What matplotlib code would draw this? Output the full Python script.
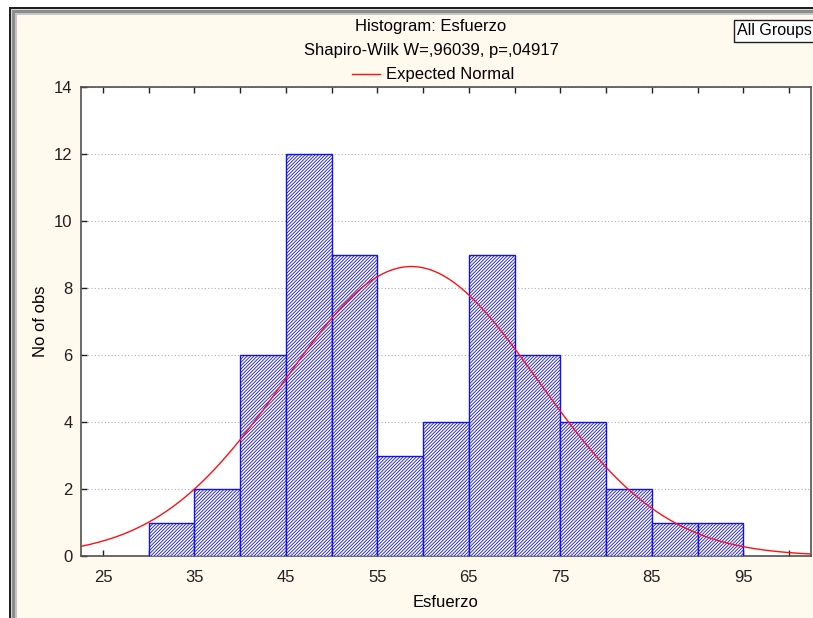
import numpy as np
import matplotlib
matplotlib.use("Agg")
import matplotlib.pyplot as plt
from matplotlib.patches import Rectangle
from matplotlib.lines import Line2D

plt.rcParams['font.family'] = ['Liberation Sans', 'DejaVu Sans']
plt.rcParams['hatch.color'] = '#3a3aff'
plt.rcParams['hatch.linewidth'] = 0.6

bin_lefts = [30, 35, 40, 45, 50, 55, 60, 65, 70, 75, 80, 85, 90]
counts = [1, 2, 6, 12, 9, 3, 4, 9, 6, 4, 2, 1, 1]
bin_width = 5
x_ticklabels = [25, 35, 45, 55, 65, 75, 85, 95]
y_ticks = [0, 2, 4, 6, 8, 10, 12, 14]

# Paramètres de la normale attendue
mu = 58.7
sigma = 13.85
n_obs = sum(counts)

W, H = 813, 618
fig = plt.figure(figsize=(W / 100, H / 100), dpi=100, facecolor='white')

def px_rect(x0, y0, color):
    # rectangle en pixels (origine en haut à gauche) jusqu'au bord droit/bas
    fig.patches.append(Rectangle((x0 / W, 0), 1.1, 1 - y0 / H, transform=fig.transFigure,
                                 facecolor=color, edgecolor='none', zorder=-10))

# Cadre de la fenêtre
px_rect(9, 7, '#202020')
px_rect(11, 9, '#d8d8d8')
px_rect(12, 10, '#8c8c8c')
px_rect(15, 13, '#c4c4c4')
px_rect(17, 15, '#fff9ee')

ax = fig.add_axes([81 / W, 1 - 556 / H, (811 - 81) / W, (556 - 87) / H])
ax.set_facecolor('white')

ax.bar(bin_lefts, counts, width=bin_width, align='edge', facecolor='white',
       edgecolor='#1010f0', linewidth=1.0, hatch='//////////', zorder=3)

xs = np.linspace(20, 105, 400)
pdf = np.exp(-0.5 * ((xs - mu) / sigma) ** 2) / (sigma * np.sqrt(2 * np.pi))
ax.plot(xs, n_obs * bin_width * pdf, color='#ff1010', linewidth=1.0, zorder=4)

ax.set_xlim(22.6, 102.4)
ax.set_ylim(0, 14)
ax.set_xticks(np.arange(25, 101, 5), minor=False)
ax.set_xticklabels([str(v) if v in x_ticklabels else '' for v in np.arange(25, 101, 5)])
ax.set_yticks(y_ticks)
ax.tick_params(axis='both', direction='in', length=4, width=1, labelsize=12,
               colors='#202020', pad=6)
ax.tick_params(axis='x', top=True, pad=10)
ax.grid(axis='y', linestyle=(0, (1, 2)), color='#b0b0b0', linewidth=0.8, zorder=1)
for sp in ax.spines.values():
    sp.set_color('#505050')
    sp.set_linewidth(1.2)

ax.set_xlabel('Esfuerzo', fontsize=12, labelpad=7)
ax.set_ylabel('No of obs', fontsize=12, labelpad=4)

# Titres
fig.text(431 / W, 1 - 27 / H, 'Histogram: Esfuerzo', ha='center', va='center', fontsize=12)
fig.text(431 / W, 1 - 50 / H, 'Shapiro-Wilk W=,96039, p=,04917', ha='center', va='center',
         fontsize=12)
fig.lines.append(Line2D([352 / W, 380 / W], [1 - 74 / H, 1 - 74 / H], transform=fig.transFigure,
                        color='#ff1010', linewidth=1.0))
fig.text(386 / W, 1 - 74 / H, 'Expected Normal', ha='left', va='center', fontsize=12)

fig.text(737 / W, 1 - 31 / H, 'All Groups', ha='left', va='center', fontsize=11.5,
         bbox=dict(boxstyle='square,pad=0.2', facecolor='white', edgecolor='#202020',
                   linewidth=1.0))

fig.savefig('out.png', dpi=100, facecolor=fig.get_facecolor())
